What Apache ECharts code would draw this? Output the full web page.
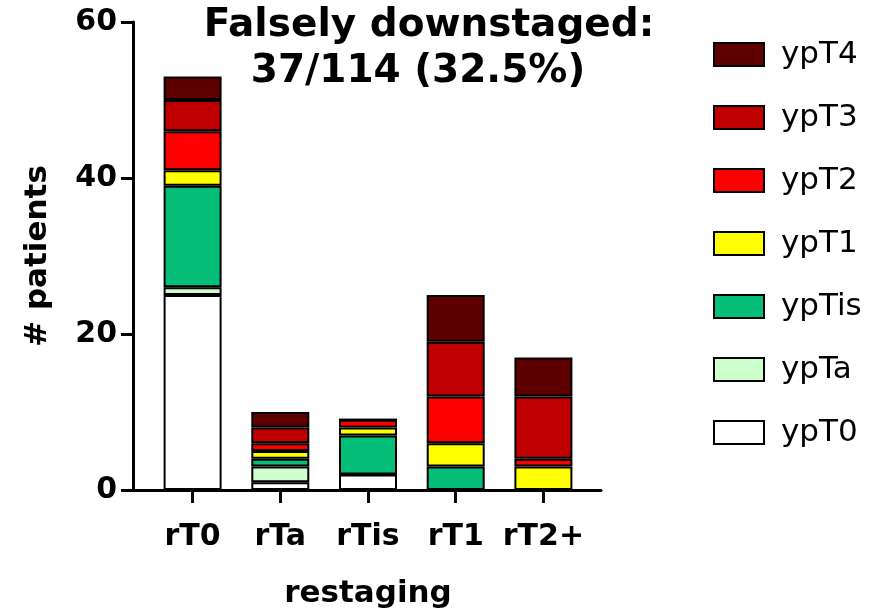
<!DOCTYPE html>
<html>
<head>
<meta charset="utf-8">
<script src="https://cdn.jsdelivr.net/npm/echarts@6/dist/echarts.min.js"></script>
<style>
  html, body { margin: 0; padding: 0; background: #fff; }
  #chart { width: 879px; height: 614px; }
</style>
</head>
<body>
<div id="chart"></div>
<script>
// restaging categories and stacked counts (bottom -> top)
var categories = ['rT0', 'rTa', 'rTis', 'rT1', 'rT2+'];
var ypT0 = [25, 1, 2, 0, 0];
var ypTa = [1, 2, 0, 0, 0];
var ypTis = [13, 1, 5, 3, 0];
var ypT1 = [2, 1, 1, 3, 3];
var ypT2 = [5, 1, 1, 6, 1];
var ypT3 = [4, 2, 0, 7, 8];
var ypT4 = [3, 2, 0, 6, 5];

var font = 'DejaVu Sans';
var stages = [
  { name: 'ypT0', data: ypT0, color: '#ffffff' },
  { name: 'ypTa', data: ypTa, color: '#ccffcc' },
  { name: 'ypTis', data: ypTis, color: '#05bf78' },
  { name: 'ypT1', data: ypT1, color: '#ffff00' },
  { name: 'ypT2', data: ypT2, color: '#ff0000' },
  { name: 'ypT3', data: ypT3, color: '#c00000' },
  { name: 'ypT4', data: ypT4, color: '#5e0000' }
];

var chart = echarts.init(document.getElementById('chart'));

chart.setOption({
  animation: false,
  title: [
    {
      text: 'Falsely downstaged:',
      left: 424, top: 1, textAlign: 'center',
      textStyle: { fontFamily: font, fontWeight: 'bold', fontSize: 39, color: '#000' }
    },
    {
      text: '37/114 (32.5%)',
      left: 413, top: 47, textAlign: 'center',
      textStyle: { fontFamily: font, fontWeight: 'bold', fontSize: 39, color: '#000' }
    }
  ],
  legend: {
    orient: 'vertical',
    left: 708,
    top: 34,
    itemWidth: 50,
    itemHeight: 23,
    itemGap: 32,
    icon: 'rect',
    data: stages.map(function (s) { return s.name; }).reverse(),
    textStyle: { fontFamily: font, fontSize: 31, color: '#000', padding: [0, 0, 0, 12] }
  },
  // grid 0 holds the bars, grid 1 the full-width axes
  grid: [
    { left: 148.75, right: 291.75, top: 22, bottom: 124 },
    { left: 133, right: 278, top: 22, bottom: 124 }
  ],
  xAxis: [
    {
      type: 'category',
      gridIndex: 0,
      data: categories,
      name: 'restaging',
      nameLocation: 'middle',
      nameGap: 88,
      nameTextStyle: { fontFamily: font, fontWeight: 'bold', fontSize: 31, color: '#000' },
      axisLine: { show: false },
      axisTick: { show: true, interval: 0, alignWithLabel: true, length: 13, lineStyle: { color: '#000', width: 3 } },
      axisLabel: { interval: 0, margin: 32, fontFamily: font, fontWeight: 'bold', fontSize: 30, color: '#000' },
      splitLine: { show: false }
    },
    {
      type: 'value',
      gridIndex: 1,
      min: 0,
      max: 1,
      axisLine: { show: true, onZero: false, lineStyle: { color: '#000', width: 3 } },
      axisTick: { show: false },
      axisLabel: { show: false },
      splitLine: { show: false }
    }
  ],
  yAxis: [
    {
      type: 'value',
      gridIndex: 0,
      min: 0,
      max: 60,
      show: false
    },
    {
      type: 'value',
      gridIndex: 1,
      min: 0,
      max: 60,
      interval: 20,
      name: '# patients',
      nameLocation: 'middle',
      nameGap: 80,
      nameTextStyle: { fontFamily: font, fontWeight: 'bold', fontSize: 31, color: '#000' },
      axisLine: { show: true, onZero: false, lineStyle: { color: '#000', width: 3 } },
      axisTick: { show: true, length: 12, lineStyle: { color: '#000', width: 3 } },
      axisLabel: { margin: 16, fontFamily: font, fontWeight: 'bold', fontSize: 30, color: '#000' },
      splitLine: { show: false }
    }
  ],
  series: stages.map(function (s) {
    return {
      name: s.name,
      type: 'bar',
      stack: 'total',
      xAxisIndex: 0,
      yAxisIndex: 0,
      barWidth: 58,
      itemStyle: { color: s.color, borderColor: '#000', borderWidth: 2 },
      data: s.data
    };
  })
});
</script>
</body>
</html>
